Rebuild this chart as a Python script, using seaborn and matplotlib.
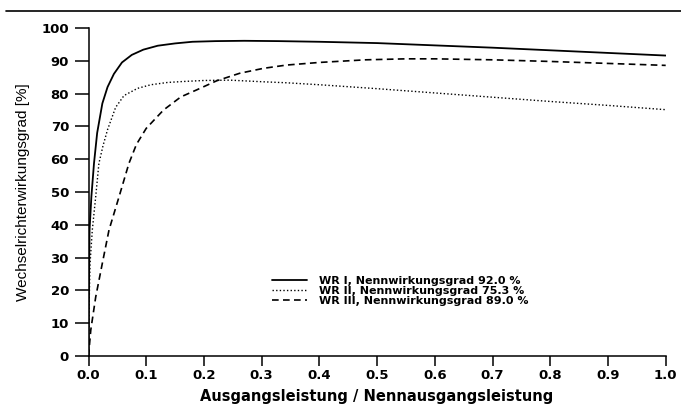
import matplotlib
matplotlib.use('Agg')
import matplotlib.pyplot as plt
import numpy as np
import pandas as pd
import seaborn as sns
from matplotlib.lines import Line2D

# Values (load ratio, efficiency in %)
wr1_x = [0.0, 0.0005, 0.0018, 0.005, 0.0095, 0.015, 0.024, 0.033, 0.044, 0.058,
         0.075, 0.095, 0.12, 0.15, 0.18, 0.22, 0.27, 0.33, 0.4, 0.5, 0.6, 0.7,
         0.8, 0.9, 1.0]
wr1_y = [0.0, 15.0, 38.4, 48.6, 58.7, 68.0, 77.0, 82.0, 86.0, 89.5,
         91.8, 93.4, 94.6, 95.3, 95.8, 96.0, 96.1, 96.0, 95.8, 95.4, 94.7, 94.0,
         93.2, 92.4, 91.6]

wr2_x = [0.0, 0.001, 0.0026, 0.0066, 0.0125, 0.018, 0.025, 0.033, 0.047, 0.0615,
         0.085, 0.108, 0.137, 0.165, 0.2, 0.245, 0.303, 0.343, 0.4, 0.5, 0.6,
         0.7, 0.8, 0.9, 1.0]
wr2_y = [0.0, 15.0, 28.0, 38.4, 48.6, 58.7, 64.0, 69.0, 75.8, 79.4,
         81.6, 82.7, 83.4, 83.7, 84.0, 84.1, 83.6, 83.3, 82.7, 81.5, 80.2,
         78.9, 77.6, 76.4, 75.1]

wr3_x = [0.0, 0.004, 0.0125, 0.024, 0.0355, 0.053, 0.07, 0.083, 0.1, 0.13,
         0.16, 0.187, 0.222, 0.262, 0.303, 0.343, 0.4, 0.48, 0.55, 0.6, 0.7,
         0.8, 0.9, 1.0]
wr3_y = [0.0, 8.0, 18.0, 28.3, 38.4, 48.6, 58.7, 64.5, 69.4, 75.0,
         79.0, 81.1, 83.9, 86.2, 87.7, 88.7, 89.5, 90.3, 90.6, 90.6, 90.3,
         89.8, 89.2, 88.6]

labels = ['WR I, Nennwirkungsgrad 92.0 %',
          'WR II, Nennwirkungsgrad 75.3 %',
          'WR III, Nennwirkungsgrad 89.0 %']
x_ticks = [0.0, 0.1, 0.2, 0.3, 0.4, 0.5, 0.6, 0.7, 0.8, 0.9, 1.0]
y_ticks = [0, 10, 20, 30, 40, 50, 60, 70, 80, 90, 100]

sns.set_style('ticks')
plt.rcParams['font.family'] = ['DejaVu Sans']
for key in ['text.color', 'axes.labelcolor', 'xtick.color', 'ytick.color',
            'axes.edgecolor']:
    plt.rcParams[key] = 'black'

fig = plt.figure(figsize=(6.81, 4.12), dpi=100)
ax = fig.add_axes([88.5/681, 56/412, (665.7 - 88.5)/681, (356 - 28)/412])

styles = ['-', (0, (1, 1.6)), (0, (4, 2.6))]
widths = [1.3, 1.0, 1.2]
for xs, ys, lab, ls, lw in zip([wr1_x, wr2_x, wr3_x], [wr1_y, wr2_y, wr3_y],
                               labels, styles, widths):
    df = pd.DataFrame({'x': xs, 'y': ys})
    sns.lineplot(data=df, x='x', y='y', ax=ax, color='black', linestyle=ls,
                 linewidth=lw, label=lab, estimator=None, sort=False)

ax.set_xlim(0, 1)
ax.set_ylim(0, 100)
ax.set_xticks(x_ticks)
ax.set_xticklabels([f'{t:.1f}' for t in x_ticks])
ax.set_yticks(y_ticks)
ax.set_yticklabels([str(t) for t in y_ticks])
for lab in ax.get_xticklabels() + ax.get_yticklabels():
    lab.set_fontweight('bold')
    lab.set_fontsize(9.5)
ax.tick_params(axis='y', length=10, width=1.1, pad=4, direction='out')
ax.tick_params(axis='x', length=7.5, width=1.1, pad=2, direction='out')
for s in ['left', 'bottom']:
    ax.spines[s].set_linewidth(1.1)
sns.despine(ax=ax)

ax.set_xlabel('Ausgangsleistung / Nennausgangsleistung', fontsize=10.5,
              fontweight='bold', labelpad=5)
ax.set_ylabel('Wechselrichterwirkungsgrad [%]', family='Liberation Sans',
              fontsize=11, labelpad=8)

leg = ax.legend(loc='upper left', bbox_to_anchor=(266/681, 1 - 270/412),
                bbox_transform=fig.transFigure, frameon=False,
                prop={'weight': 'bold', 'size': 8}, handlelength=3.2,
                handletextpad=1.05, labelspacing=0.0, borderpad=0)

# page rule at the top of the scan
fig.add_artist(Line2D([6/681, 1.0], [1 - 10.7/412, 1 - 10.7/412],
                      transform=fig.transFigure, color='black', linewidth=1.2))

fig.savefig('out.png', dpi=100)
